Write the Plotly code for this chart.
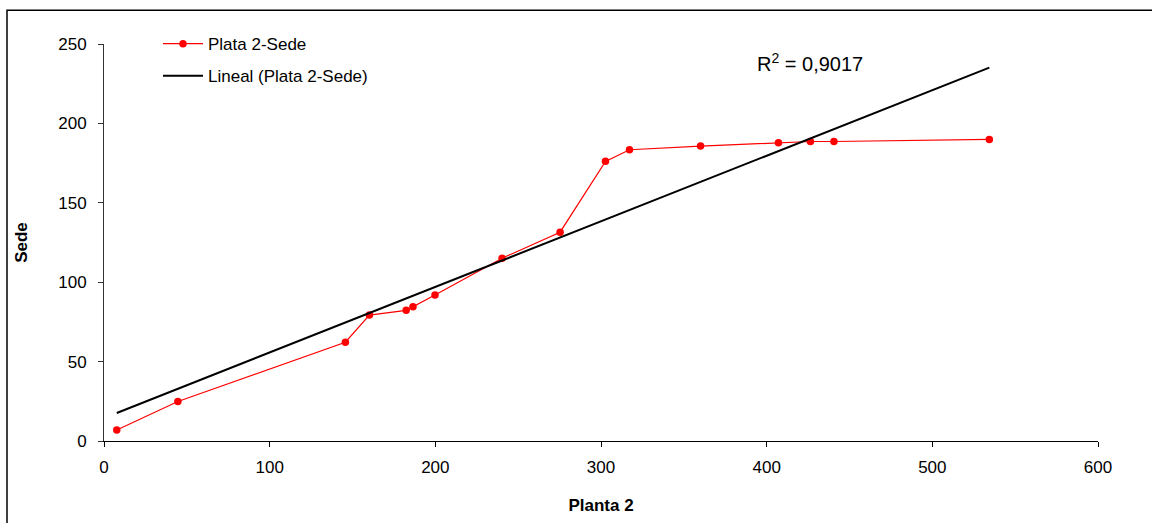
import numpy as np
import plotly.graph_objects as go

# Data
planta2 = [7.7, 44.6, 145.7, 160.2, 182.4, 186.5, 199.8, 240.3, 275.3, 302.7,
           317.2, 360.1, 407.1, 426.4, 440.6, 534.4]
sede = [6.9, 24.9, 62.2, 79.3, 82.3, 84.5, 91.9, 115.1, 131.5, 176.1,
        183.4, 185.7, 187.8, 188.6, 188.6, 189.9]
series_name = "Plata 2-Sede"
trend_name = "Lineal (Plata 2-Sede)"
r2_label = "R<sup>2</sup> = 0,9017"
x_ticks = [0, 100, 200, 300, 400, 500, 600]
y_ticks = [0, 50, 100, 150, 200, 250]

# Linear trendline (least squares) over the data range
slope, intercept = np.polyfit(planta2, sede, 1)
tx = [min(planta2), max(planta2)]
ty = [slope * v + intercept for v in tx]

FONT = "Liberation Sans, Arial, sans-serif"

fig = go.Figure()
fig.add_trace(go.Scatter(
    x=planta2, y=sede, mode="lines+markers", name=series_name,
    line=dict(color="#FF0000", width=1.2),
    marker=dict(color="#FF0000", size=7.5, symbol="circle"),
    legendgroup="a",
))
fig.add_trace(go.Scatter(
    x=tx, y=ty, mode="lines", name=trend_name,
    line=dict(color="#000000", width=2),
    legendgroup="b",
))

L, R, T, B = 104, 54, 44, 79
W, H = 1152, 523
pw, ph = W - L - R, H - T - B

fig.update_layout(
    width=W, height=H,
    margin=dict(l=L, r=R, t=T, b=B, pad=0),
    paper_bgcolor="white", plot_bgcolor="white",
    font=dict(family=FONT, size=17, color="black"),
    showlegend=True,
    legend=dict(
        x=(158 - L) / pw, y=1 + (T - 26) / ph, xanchor="left", yanchor="top",
        bgcolor="rgba(0,0,0,0)", font=dict(size=17),
        itemwidth=40, tracegroupgap=7, traceorder="grouped",
    ),
    xaxis=dict(
        range=[0, 600], tickvals=x_ticks, ticktext=[str(v) for v in x_ticks],
        showgrid=False, zeroline=False, showline=True, linecolor="black",
        linewidth=1, ticks="outside", ticklen=5, tickcolor="black",
        tickfont=dict(size=17), ticklabelstandoff=6,
        title=dict(text="<b>Planta 2</b>", font=dict(size=17), standoff=22),
    ),
    yaxis=dict(
        range=[0, 250], tickvals=y_ticks, ticktext=[str(v) for v in y_ticks],
        showgrid=False, zeroline=False, showline=True, linecolor="#333333",
        linewidth=1, ticks="outside", ticklen=5, tickcolor="#333333",
        tickfont=dict(size=17), ticklabelstandoff=8,
        title=dict(text="<b>Sede</b>", font=dict(size=17), standoff=26),
    ),
    annotations=[dict(
        text=r2_label, xref="x", yref="y", x=(755 - L) / pw * 600, y=(H - B - 63) / ph * 250,
        xanchor="left", yanchor="middle", showarrow=False, font=dict(size=20),
    )],
    shapes=[dict(
        type="rect", xref="paper", yref="paper",
        x0=(7 - L) / pw, x1=(W + 20 - L) / pw,
        y0=-(B + 20) / ph, y1=1 + (T - 10) / ph,
        line=dict(color="black", width=1.5), fillcolor="rgba(0,0,0,0)", layer="below",
    )],
)

fig.write_html("out.html", config={"displayModeBar": False},
               post_script="document.body.style.margin='0';")
